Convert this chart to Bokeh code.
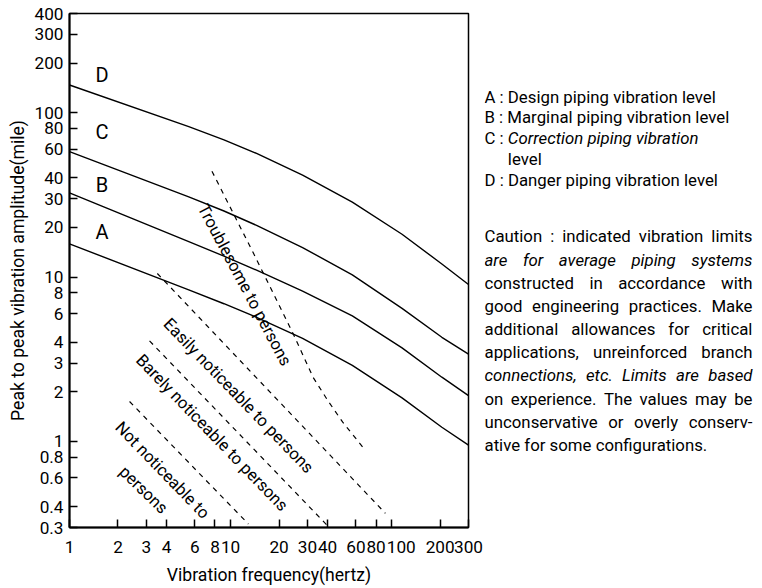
import glob
from bokeh.plotting import figure
from bokeh.models import FixedTicker, Range1d, CustomJSTickFormatter
from bokeh.layouts import row
from bokeh.embed import file_html
from bokeh.resources import INLINE
from bokeh.core.properties import value

# ---------------- data ----------------
x_ticks = [1, 2, 3, 4, 6, 8, 10, 20, 30, 40, 60, 80, 100, 200, 300]
x_tick_labels = ["1", "2", "3", "4", "6", "8", "10", "20", "30", "40", "60", "80",
                 "\u2007\u2007100", "200", "300"]
y_ticks = [0.3, 0.4, 0.6, 0.8, 1, 2, 3, 4, 6, 8, 10, 20, 30, 40, 60, 80, 100, 200, 300, 400]
y_tick_labels = ["0.3", "0.4", "0.6", "0.8", "1", "2", "3", "4", "6", "8", "10", "20", "30",
                 "40", "60", "80", "100", "200", "300", "400"]

curve_freq = [1, 5.5, 9.1, 14.5, 28, 57, 116, 205, 300]
amp_A = [15.9, 8.36, 6.88, 5.69, 4.23, 2.90, 1.84, 1.22, 0.95]
amp_B = [32.5, 16.4, 13.4, 11.0, 8.22, 5.8, 3.71, 2.46, 1.90]
amp_C = [57.8, 30.7, 25.2, 20.6, 15.1, 10.3, 6.45, 4.3, 3.4]
amp_D = [147, 82, 68.2, 56.4, 41.6, 28.5, 18.2, 12.0, 9.0]

curve_names = ["A", "B", "C", "D"]
curve_label_freq = [1.59, 1.59, 1.59, 1.59]
curve_label_amp = [18.8, 36.3, 76, 169]

trouble_freq = [7.66, 13.9, 24.5, 32.5, 40.2, 49.7, 68.9]
trouble_amp = [44.0, 13.9, 4.51, 2.46, 1.77, 1.31, 0.88]
easily_freq = [3.51, 91.4]
easily_amp = [10.5, 0.366]
barely_freq = [3.14, 40.2]
barely_amp = [4.09, 0.306]
not_freq = [2.36, 12.9]
not_amp = [1.75, 0.315]

zone_texts = ["Troublesome to persons", "Easily noticeable to persons",
              "Barely noticeable to persons", "Not noticeable to", "persons"]
zone_freq = [12.2, 11.2, 7.66, 3.77, 2.88]
zone_amp = [8.95, 1.90, 1.13, 0.669, 0.508]
zone_angle = [-62, -46, -46, -46, -44]

legend_lines = ["A : Design piping vibration level",
                "B : Marginal piping vibration level",
                "C : |Correction piping vibration",
                "level",
                "D : Danger piping vibration level"]
caution_lines = ["Caution : indicated vibration limits",
                 "are for average piping systems",
                 "constructed in accordance with",
                 "good engineering practices. Make",
                 "additional allowances for critical",
                 "applications, unreinforced branch",
                 "connections, etc. Limits are based",
                 "on experience. The values may be",
                 "unconservative or overly conserv-",
                 "ative for some configurations."]
caution_italic = [False, True, False, False, False, False, True, False, False, False]

# ---------------- fonts ----------------
def _find(name):
    for root in ("/usr/share/fonts", "/usr/local/share/fonts", "/usr/share"):
        hits = sorted(glob.glob(root + "/**/" + name, recursive=True))
        if hits:
            return hits[0]
    return None

CANDIDATES = [("Liberation Sans Narrow", "LiberationSansNarrow-Regular.ttf", "LiberationSansNarrow-Italic.ttf"),
              ("Roboto", "Roboto-Regular.ttf", "Roboto-Italic.ttf"),
              ("Roboto", "Roboto*.ttf", "Roboto-Italic*.ttf"),
              ("Liberation Sans", "LiberationSans-Regular.ttf", "LiberationSans-Italic.ttf")]
FONT = "Roboto"
F_REG = F_ITA = None
try:
    from PIL import ImageFont
    for fam, rf, itf in CANDIDATES:
        r = _find(rf)
        if r:
            FONT = fam
            F_REG = ImageFont.truetype(r, 100)
            i = _find(itf)
            F_ITA = ImageFont.truetype(i, 100) if i else F_REG
            break
except Exception:
    F_REG = F_ITA = None


def text_width(s, size, italic=False):
    f = F_ITA if italic else F_REG
    if f is not None:
        return f.getlength(s) * size / 100.0
    return len(s) * 0.5 * size


def fit_size(s, target, default, lo=12, hi=23):
    if F_REG is None:
        return default
    return round(max(lo, min(hi, target / (F_REG.getlength(s) / 100.0))), 1)


TICK_FS = fit_size("200300", 58, 17)
AXIS_FS = fit_size("Vibration frequency(hertz)", 204, 18)
ZONE_FS = fit_size("Easily noticeable to persons", 208, 17)
RS = fit_size("A : Design piping vibration level", 232, 16)
LETTER_FS = 20

W, H = 760, 587
FRAME_TOP, FRAME_BOTTOM = 13, 532
MAIN_W = 484

# ---------------- main chart ----------------
p = figure(width=MAIN_W, height=H, x_axis_type="log", y_axis_type="log",
           x_range=Range1d(1, 300), y_range=Range1d(0.3, 400),
           output_backend="svg", toolbar_location=None,
           min_border_left=69, min_border_right=16,
           min_border_top=FRAME_TOP, min_border_bottom=H - FRAME_BOTTOM)
p.background_fill_color = "white"
p.border_fill_color = "white"
p.outline_line_color = "black"
p.outline_line_width = 1.5
p.grid.visible = False

p.xaxis.ticker = FixedTicker(ticks=x_ticks)
p.yaxis.ticker = FixedTicker(ticks=y_ticks)
JS = """
const i = vals.findIndex(v => Math.abs(v - tick) < 1e-6 * Math.max(1, Math.abs(v)));
return i >= 0 ? labs[i] : '';
"""
p.xaxis.formatter = CustomJSTickFormatter(args=dict(vals=x_ticks, labs=x_tick_labels), code=JS)
p.yaxis.formatter = CustomJSTickFormatter(args=dict(vals=y_ticks, labs=y_tick_labels), code=JS)
p.xaxis.axis_label = "Vibration frequency(hertz)"
p.yaxis.axis_label = "Peak to peak vibration amplitude(mile)"
for ax in (p.xaxis[0], p.yaxis[0]):
    ax.major_tick_in = 8
    ax.major_tick_out = 0
    ax.minor_tick_line_color = None
    ax.axis_line_width = 2
    ax.axis_line_color = "black"
    ax.major_tick_line_width = 1.5
    ax.major_tick_line_color = "black"
    ax.major_label_text_font = FONT
    ax.major_label_text_font_size = "%.1fpx" % TICK_FS
    ax.major_label_text_color = "black"
    ax.axis_label_text_font = FONT
    ax.axis_label_text_font_size = "%.1fpx" % AXIS_FS
    ax.axis_label_text_font_style = "normal"
    ax.axis_label_text_color = "black"
p.xaxis.major_label_standoff = 9
p.xaxis.axis_label_standoff = 5
p.yaxis.major_label_standoff = 6
p.yaxis.axis_label_standoff = 4

for amps in (amp_A, amp_B, amp_C, amp_D):
    p.line(curve_freq, amps, line_color="black", line_width=1.4)

for fx, ay in ((trouble_freq, trouble_amp), (easily_freq, easily_amp),
               (barely_freq, barely_amp), (not_freq, not_amp)):
    p.line(fx, ay, line_color="black", line_width=1.2, line_dash="5 5")

p.text(x=curve_label_freq, y=curve_label_amp, text=curve_names,
       text_font=value(FONT), text_font_size="%dpx" % LETTER_FS, text_color="black",
       text_align="center", text_baseline="middle")
p.text(x=zone_freq, y=zone_amp, text=zone_texts, angle=zone_angle, angle_units="deg",
       text_font=value(FONT), text_font_size="%.1fpx" % ZONE_FS, text_color="black",
       text_align="center", text_baseline="middle")

# ---------------- right-hand text block (picture pixels) ----------------
LEFT, RIGHT = 484, 752
items = []  # (x, y, text, italic)

legend_y = [97, 118, 139, 160, 181]
indent = LEFT
for line, y in zip(legend_lines, legend_y):
    if "|" in line:
        a, b = line.split("|")
        items.append((LEFT, y, a.strip(), False))
        indent = LEFT + text_width(a, RS)
        items.append((indent, y, b, True))
    elif line == "level":
        items.append((indent, y, line, False))
    else:
        items.append((LEFT, y, line, False))

for i, (line, itl) in enumerate(zip(caution_lines, caution_italic)):
    y = 238 + 23.4 * i
    words = line.split(" ")
    widths = [text_width(w, RS, itl) for w in words]
    if i < len(caution_lines) - 1 and len(words) > 1:
        gap = (RIGHT - LEFT - sum(widths)) / (len(words) - 1)
    else:
        gap = text_width(" ", RS, itl)
    x = LEFT
    for w, wd in zip(words, widths):
        items.append((x, y, w, itl))
        x += wd + gap

p2 = figure(width=W - MAIN_W, height=H, x_range=Range1d(MAIN_W, W),
            y_range=Range1d(FRAME_BOTTOM, FRAME_TOP),
            output_backend="svg", toolbar_location=None,
            min_border_left=0, min_border_right=0,
            min_border_top=FRAME_TOP, min_border_bottom=H - FRAME_BOTTOM,
            x_axis_location=None, y_axis_location=None)
p2.outline_line_color = None
p2.background_fill_color = "white"
p2.border_fill_color = "white"
for g in p2.grid:
    g.visible = False
for itl in (False, True):
    sel = [it for it in items if it[3] == itl]
    p2.text(x=[s[0] for s in sel], y=[s[1] for s in sel], text=[s[2] for s in sel],
            text_font=value(FONT), text_font_size="%.1fpx" % RS,
            text_font_style="italic" if itl else "normal", text_color="black",
            text_align="left", text_baseline="middle")

layout = row(p, p2)
open("out.html", "w").write(file_html(layout, INLINE))
